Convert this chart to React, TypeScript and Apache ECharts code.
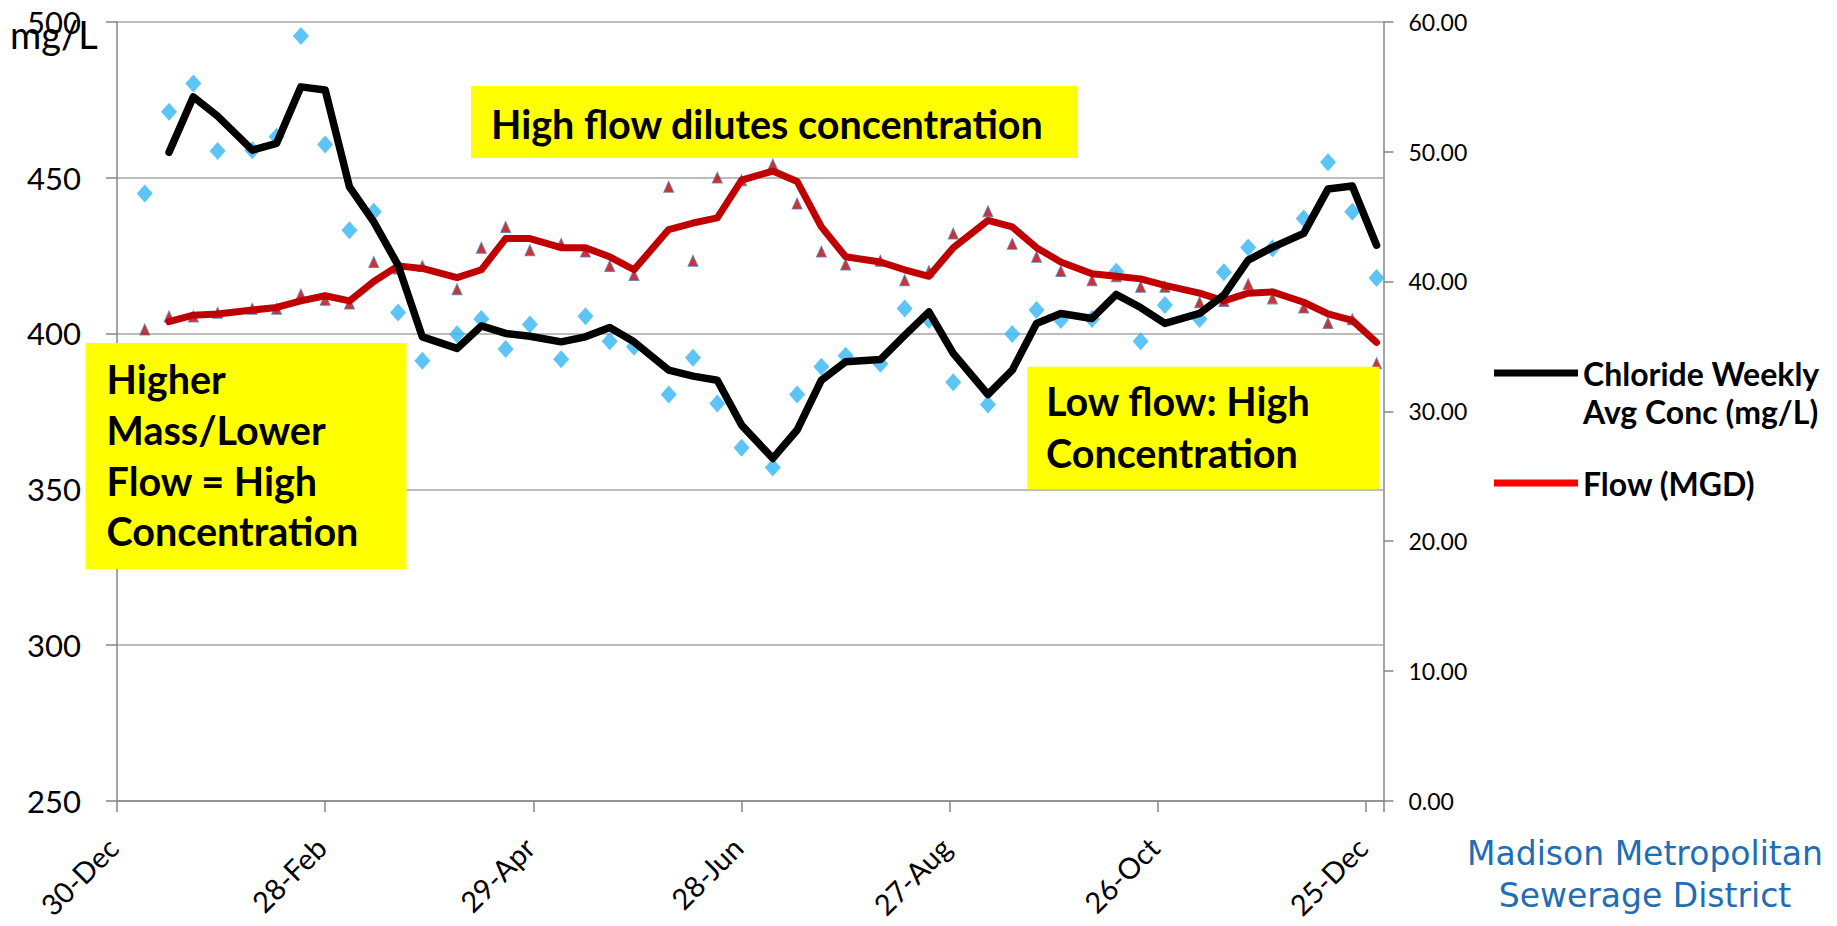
import React, { useEffect, useRef } from 'react';
import * as echarts from 'echarts';

// ---- Data ----
// x positions: days after 30-Dec
const TICK_LABELS = ['30-Dec', '28-Feb', '29-Apr', '28-Jun', '27-Aug', '26-Oct', '25-Dec'];

const SAMPLE_DAYS = [
  8, 15, 22, 29, 39, 46, 53, 60, 67, 74, 81, 88,
  98, 105, 112, 119, 128, 135, 142, 149, 159, 166, 173, 180,
  189, 196, 203, 210, 220, 227, 234, 241, 251, 258, 265, 272,
  281, 288, 295, 302, 312, 319, 326, 333, 342, 349, 356, 363,
];

// Chloride samples (mg/L, left axis) - blue diamonds
const CHLORIDE_SAMPLES = [
  444.9, 471.1, 480.2, 458.5, 458.8, 463.1, 495.4, 460.6, 433.1, 439.0, 406.7, 391.2,
  399.7, 404.6, 395.0, 402.9, 391.7, 405.5, 397.5, 395.7, 380.4, 392.2, 377.5, 363.3,
  357.0, 380.4, 389.3, 392.8, 390.3, 408.0, 404.3, 384.3, 377.2, 399.8, 407.5, 404.3,
  404.6, 419.8, 397.5, 409.1, 404.6, 419.6, 427.6, 427.3, 436.9, 454.9, 439.0, 417.8,
];

// Chloride weekly average line (mg/L, left axis) - black line
const CHLORIDE_WEEKLY_AVG = [
  null, 458.1, 475.9, 469.7, 458.8, 461.0, 479.1, 478.1, 447.0, 435.8, 421.9, 398.9,
  395.2, 402.4, 400.0, 399.1, 397.3, 398.9, 401.9, 397.3, 388.2, 386.3, 385.0, 370.6,
  359.9, 369.0, 385.0, 390.9, 391.6, 399.4, 406.9, 393.6, 380.4, 388.2, 403.2, 406.4,
  404.8, 412.5, 408.3, 403.2, 406.4, 412.3, 423.5, 427.6, 432.1, 446.3, 447.3, 428.3,
];

// Flow samples (MGD, right axis) - red triangles
const FLOW_SAMPLES = [
  36.3, 37.3, 37.3, 37.6, 37.9, 37.9, 39.0, 38.6, 38.3, 41.5, 41.0, 41.2,
  39.4, 42.6, 44.2, 42.4, 42.9, 42.3, 41.2, 40.5, 47.3, 41.6, 48.0, 47.8,
  49.0, 46.0, 42.3, 41.3, 41.6, 40.1, 40.8, 43.7, 45.4, 42.9, 41.9, 40.8,
  40.1, 40.4, 39.6, 39.6, 38.4, 38.5, 39.8, 38.7, 38.0, 36.8, 37.1, 33.7,
];

// Flow line (MGD, right axis) - red line
const FLOW_AVG = [
  null, 36.9, 37.4, 37.5, 37.8, 38.0, 38.5, 38.9, 38.5, 40.0, 41.2, 41.0,
  40.3, 40.9, 43.3, 43.3, 42.6, 42.6, 41.9, 40.9, 44.0, 44.5, 44.9, 47.8,
  48.5, 47.7, 44.2, 41.9, 41.5, 40.9, 40.4, 42.6, 44.7, 44.2, 42.6, 41.5,
  40.6, 40.4, 40.2, 39.7, 39.1, 38.5, 39.1, 39.2, 38.4, 37.5, 37.0, 35.3,
];

const NAME_CL = 'Chloride Weekly Avg Conc (mg/L)';
const NAME_FLOW = 'Flow (MGD)';

const ANNOTATIONS = {
  top: 'High flow dilutes concentration',
  left: 'Higher\nMass/Lower\nFlow = High\nConcentration',
  right: 'Low flow: High\nConcentration',
};

const pairs = (vals: (number | null)[]) =>
  SAMPLE_DAYS.map((d, i) => [d, vals[i]]).filter((p) => p[1] !== null);

export default function App() {
  const ref = useRef<HTMLDivElement>(null);

  useEffect(() => {
    if (!ref.current) return;
    const chart = echarts.init(ref.current, undefined, { renderer: 'svg' });
    const axisGray = '#868686';
    const gridGray = '#a6a6a6';
    const FONT = 'Lato';

    const option: any = {
      animation: false,
      backgroundColor: '#ffffff',
      textStyle: { fontFamily: FONT },
      grid: {
        left: 117,
        right: 453.5,
        top: 21.7,
        bottom: 125,
        containLabel: false,
        outerBoundsMode: 'none',
      },
      xAxis: {
        type: 'value',
        min: 0,
        max: 365,
        interval: 60,
        axisLine: { show: true, lineStyle: { color: axisGray, width: 1.5 } },
        axisTick: { show: true, length: 11, lineStyle: { color: axisGray, width: 1.5 } },
        splitLine: { show: false },
        axisLabel: {
          rotate: 45,
          margin: 37,
          padding: [0, 6, 0, 0],
          fontSize: 29,
          lineHeight: 30,
          fontFamily: FONT,
          color: '#000',
          formatter: (v: number) => (v % 60 === 0 && TICK_LABELS[v / 60]) || '',
        },
      },
      yAxis: [
        {
          type: 'value',
          min: 250,
          max: 500,
          interval: 50,
          position: 'left',
          axisLine: { show: true, lineStyle: { color: axisGray, width: 1.5 } },
          axisTick: { show: true, length: 11, lineStyle: { color: axisGray, width: 1.5 } },
          splitLine: { show: true, lineStyle: { color: gridGray, width: 1.5 } },
          axisLabel: { margin: 36, fontSize: 31, fontFamily: FONT, color: '#000' },
        },
        {
          type: 'value',
          min: 0,
          max: 60,
          interval: 10,
          position: 'right',
          axisLine: { show: true, lineStyle: { color: axisGray, width: 1.5 } },
          axisTick: { show: true, length: 10, lineStyle: { color: axisGray, width: 1.5 } },
          splitLine: { show: false },
          axisLabel: {
            margin: 25,
            fontSize: 23,
            fontFamily: FONT,
            color: '#000',
            formatter: (v: number) => v.toFixed(2),
          },
        },
      ],
      legend: [
        {
          data: [{ name: NAME_CL, icon: 'rect', itemStyle: { color: '#000000' } }],
          orient: 'vertical',
          left: 1494,
          top: 316,
          padding: 0,
          itemWidth: 84,
          itemHeight: 7,
          selectedMode: false,
          formatter: () => ' \nChloride Weekly\nAvg Conc (mg/L)',
          textStyle: {
            fontFamily: FONT,
            fontWeight: 'bold',
            fontSize: 32,
            lineHeight: 38,
            color: '#000',
          },
        },
        {
          data: [{ name: NAME_FLOW, icon: 'rect', itemStyle: { color: '#ff0000' } }],
          orient: 'vertical',
          left: 1494,
          top: 464,
          padding: 0,
          itemWidth: 84,
          itemHeight: 7,
          selectedMode: false,
          textStyle: {
            fontFamily: FONT,
            fontWeight: 'bold',
            fontSize: 32,
            lineHeight: 38,
            color: '#000',
          },
        },
      ],
      series: [
        {
          name: 'Flow samples',
          type: 'scatter',
          yAxisIndex: 1,
          symbol: 'triangle',
          symbolSize: [10, 11],
          itemStyle: { color: '#c00000', borderColor: '#4f81bd', borderWidth: 1 },
          data: pairs(FLOW_SAMPLES),
          z: 2,
        },
        {
          name: 'Chloride samples',
          type: 'scatter',
          yAxisIndex: 0,
          symbol: 'diamond',
          symbolSize: [16, 18],
          itemStyle: { color: '#33b5f5' },
          data: pairs(CHLORIDE_SAMPLES),
          z: 3,
        },
        {
          name: NAME_FLOW,
          type: 'line',
          yAxisIndex: 1,
          showSymbol: false,
          symbol: 'none',
          lineStyle: { color: '#c00000', width: 7, join: 'round', cap: 'round' },
          itemStyle: { color: '#c00000' },
          data: pairs(FLOW_AVG),
          z: 4,
        },
        {
          name: NAME_CL,
          type: 'line',
          yAxisIndex: 0,
          showSymbol: false,
          symbol: 'none',
          lineStyle: { color: '#000000', width: 7.5, join: 'round', cap: 'round' },
          itemStyle: { color: '#000000' },
          data: pairs(CHLORIDE_WEEKLY_AVG),
          z: 5,
        },
      ],
      graphic: [
        {
          type: 'text',
          left: 10,
          top: 15,
          z: 50,
          style: { text: 'mg/L', fontSize: 38, fontFamily: FONT, fill: '#000' },
        },
        {
          type: 'group',
          z: 100,
          children: [
            { type: 'rect', shape: { x: 471, y: 86, width: 607, height: 72 }, style: { fill: '#ffff00' }, z: 100 },
            {
              type: 'text',
              x: 491,
              y: 123,
              z: 101,
              style: {
                text: ANNOTATIONS.top,
                fontSize: 39.5,
                fontWeight: 'bold',
                fontFamily: FONT,
                fill: '#000',
                align: 'left',
                verticalAlign: 'middle',
              },
            },
            { type: 'rect', shape: { x: 85.5, y: 343, width: 321, height: 226 }, style: { fill: '#ffff00' }, z: 100 },
            {
              type: 'text',
              x: 106.6,
              y: 353.5,
              z: 101,
              style: {
                text: ANNOTATIONS.left,
                fontSize: 39.5,
                lineHeight: 50.7,
                fontWeight: 'bold',
                fontFamily: FONT,
                fill: '#000',
                align: 'left',
                verticalAlign: 'top',
              },
            },
            { type: 'rect', shape: { x: 1027.5, y: 366.7, width: 352, height: 122.5 }, style: { fill: '#ffff00' }, z: 100 },
            {
              type: 'text',
              x: 1046,
              y: 375,
              z: 101,
              style: {
                text: ANNOTATIONS.right,
                fontSize: 39.5,
                lineHeight: 51.5,
                fontWeight: 'bold',
                fontFamily: FONT,
                fill: '#000',
                align: 'left',
                verticalAlign: 'top',
              },
            },
            {
              type: 'text',
              x: 1645,
              y: 832,
              z: 101,
              style: {
                text: 'Madison Metropolitan\nSewerage District',
                fontSize: 33,
                lineHeight: 42,
                fontFamily: 'DejaVu Sans',
                fill: '#1f6db5',
                align: 'center',
                verticalAlign: 'top',
              },
            },
          ],
        },
      ],
    };

    chart.setOption(option);
    return () => {
      chart.dispose();
    };
  }, []);

  return (
    <div
      ref={ref}
      style={{ position: 'fixed', left: 0, top: 0, width: 1837, height: 926, background: '#fff' }}
    />
  );
}
